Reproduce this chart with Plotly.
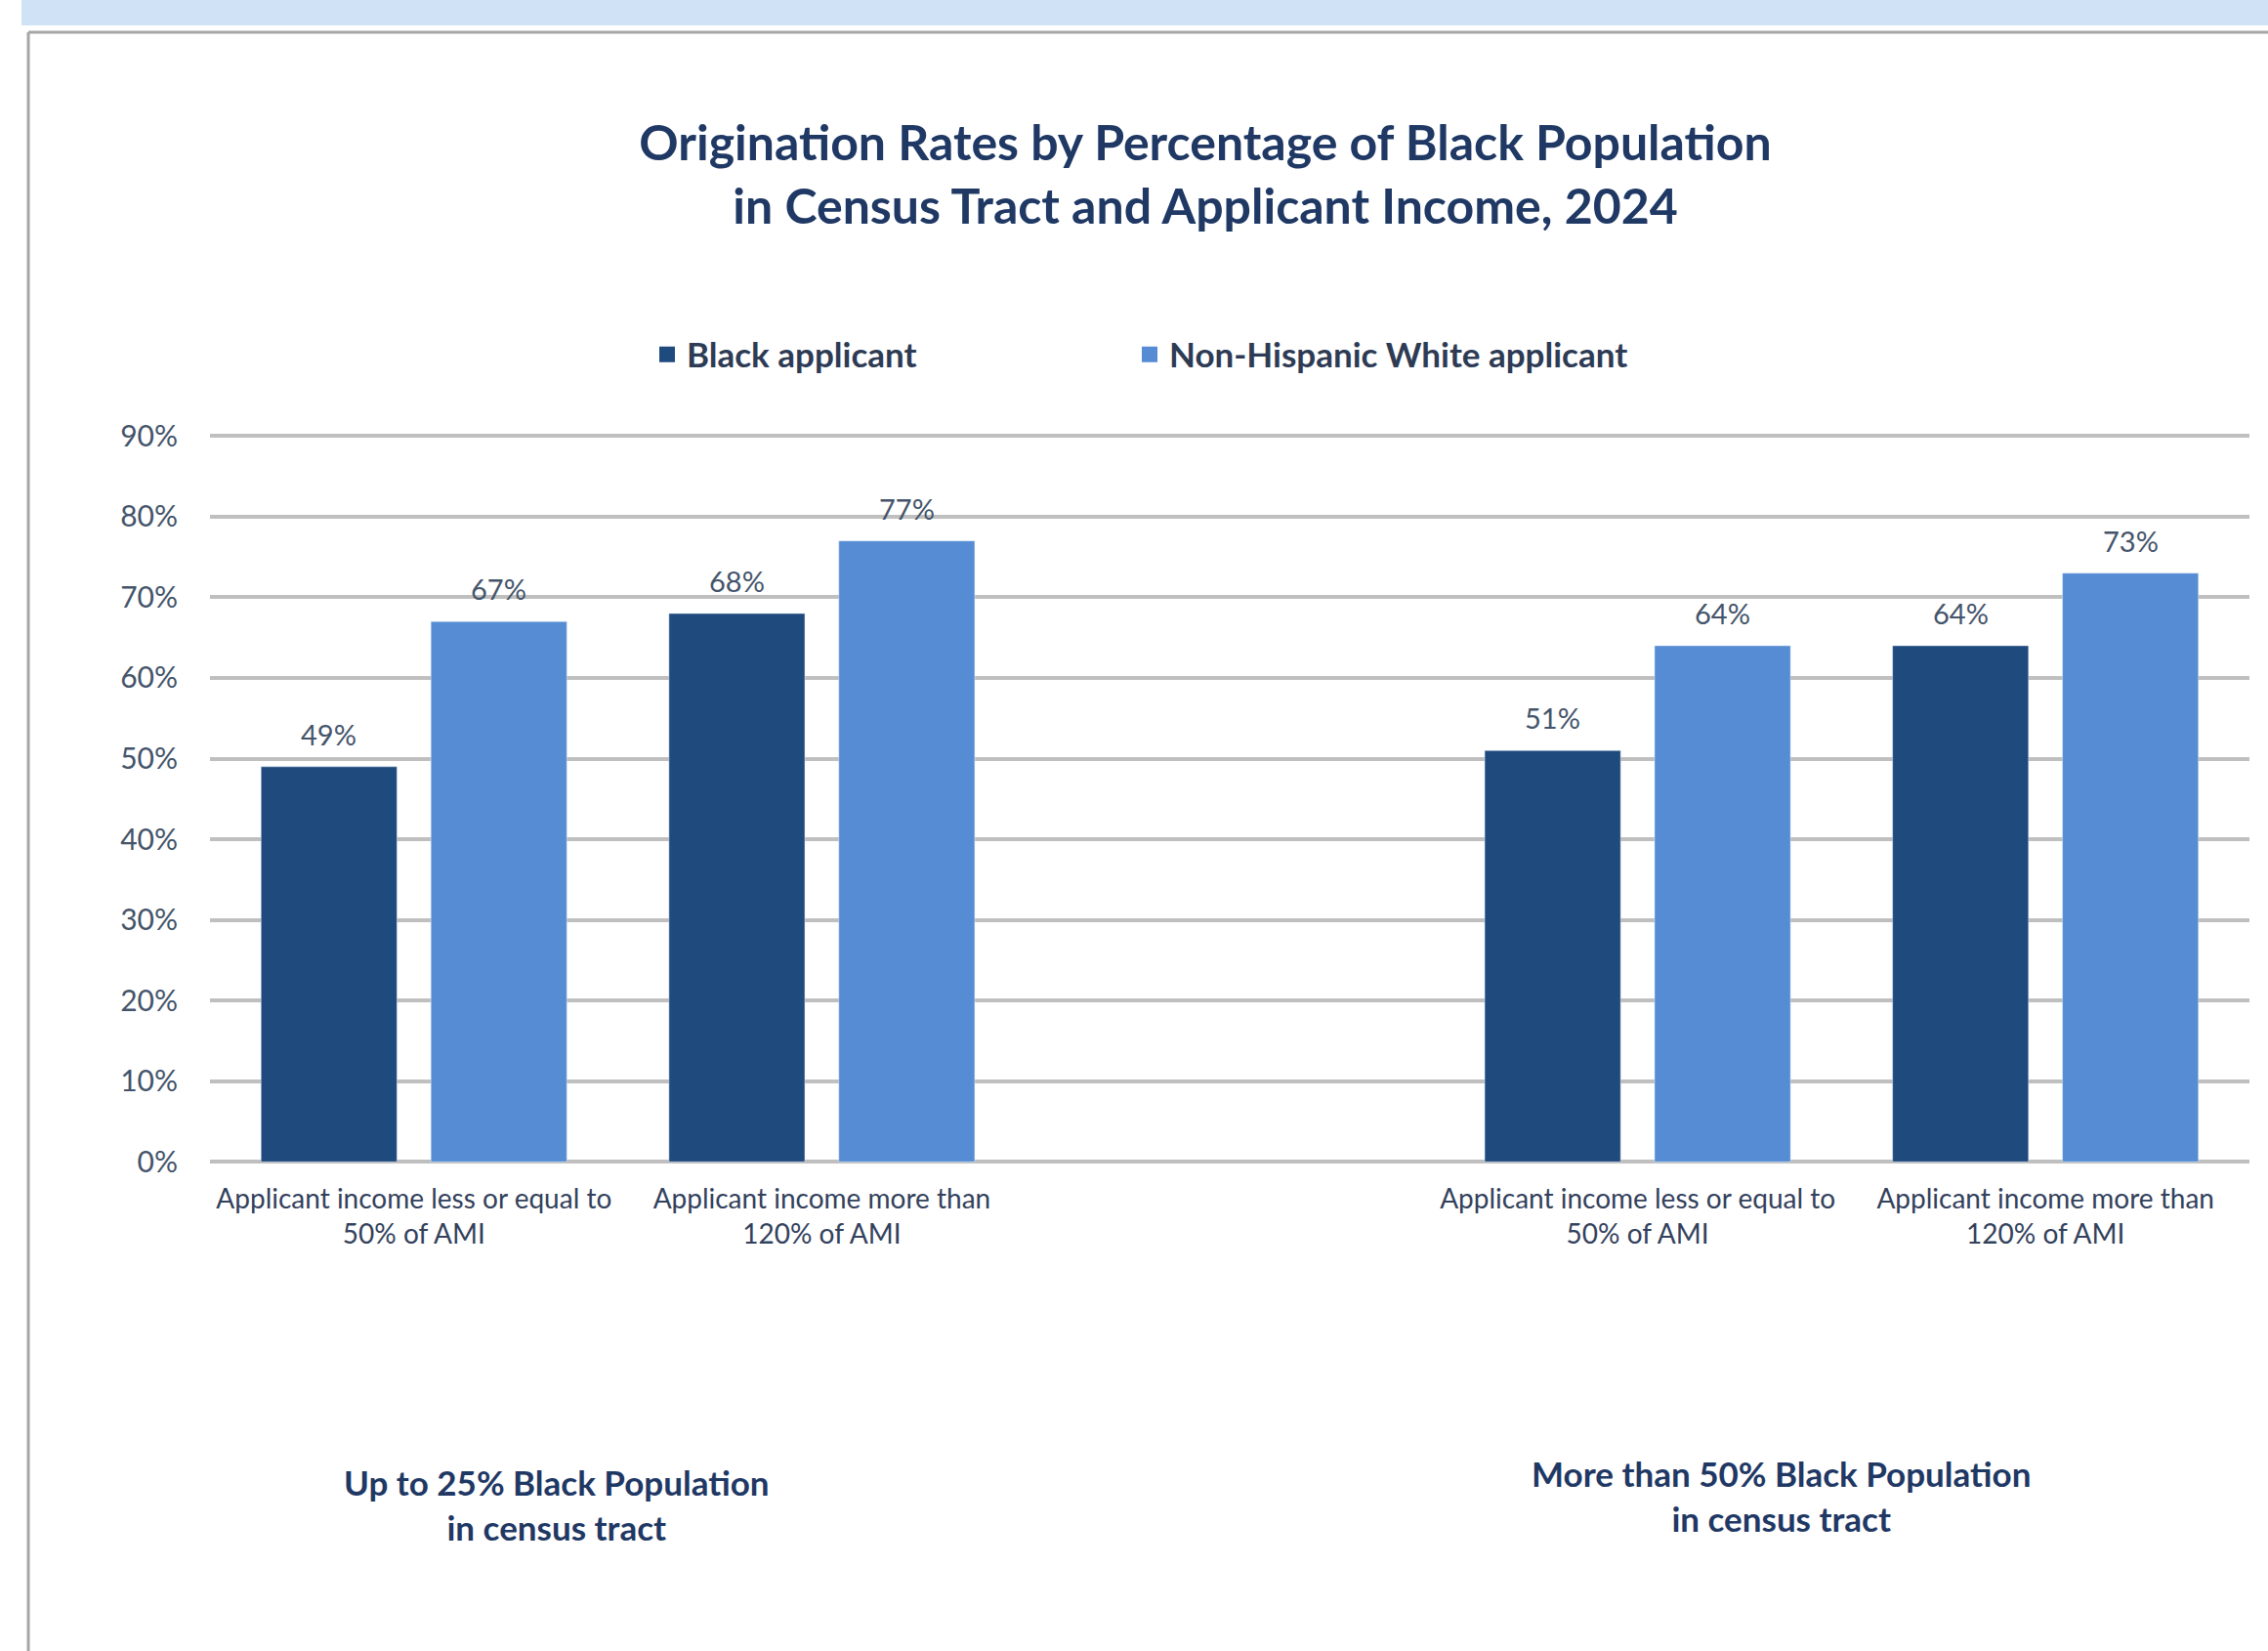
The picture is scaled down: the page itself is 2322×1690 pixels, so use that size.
import plotly.graph_objects as go

# Chart data
categories = [
    "Applicant income less or equal to<br>50% of AMI",
    "Applicant income more than<br>120% of AMI",
    "",
    "Applicant income less or equal to<br>50% of AMI",
    "Applicant income more than<br>120% of AMI",
]
black_rates = [49, 68, None, 51, 64]
white_rates = [67, 77, None, 64, 73]
series_names = ["Black applicant", "Non-Hispanic White applicant"]
series_colors = ["#1F4A7D", "#558CD4"]
group_labels = [
    "Up to 25% Black Population<br>in census tract",
    "More than 50% Black Population<br>in census tract",
]
y_ticks = [0, 10, 20, 30, 40, 50, 60, 70, 80, 90]
y_tick_text = [f"{v}%" for v in y_ticks]

# Page geometry (pixels)
W, H = 2322, 1690
ML, MR, MT, MB = 215, 19, 443, 499
PW, PH = W - ML - MR, H - MT - MB

FONT = "Lato"
NAVY = "#1F3864"
TEXT = "#2E3B55"
LABEL = "#44546A"
GRID = "#BFBFBF"
BARGAP = 0.167


def px_x(px):
    return (px - ML) / PW


def px_y(py):
    return (H - MB - py) / PH


xpos = list(range(len(categories)))
legend_ids = ["legend", "legend2"]
legend_left_px = [663, 1157]

fig = go.Figure()
for name, vals, color, lg in zip(series_names, [black_rates, white_rates], series_colors, legend_ids):
    fig.add_trace(go.Bar(
        x=xpos, y=vals, name=name, marker=dict(color=color),
        showlegend=False, hoverinfo="x+y",
    ))
    # legend entry with a larger square swatch
    fig.add_trace(go.Scatter(
        x=[None], y=[None], name=name, mode="markers",
        marker=dict(symbol="square", size=17, color=color),
        showlegend=True, legend=lg,
    ))

# Value labels above each bar, positioned from the bar values on the data axes
slot = (1 - BARGAP) / 2
for k, vals in enumerate([black_rates, white_rates]):
    offset = (k - 0.5) * slot
    for xi, v in zip(xpos, vals):
        if v is None:
            continue
        fig.add_annotation(
            x=xi + offset, y=v, xref="x", yref="y", text=f"{v:.0f}%",
            showarrow=False, xanchor="center", yanchor="bottom", yshift=14,
            font=dict(family=FONT, size=29, color=LABEL),
        )

legend_style = dict(
    orientation="h", xanchor="left", y=px_y(363), yanchor="middle",
    font=dict(family=FONT, size=35, color=TEXT, weight="bold"),
    bgcolor="rgba(0,0,0,0)",
)

fig.update_layout(
    width=W, height=H,
    margin=dict(l=ML, r=MR, t=MT, b=MB, pad=0),
    paper_bgcolor="white", plot_bgcolor="white",
    barmode="group", bargap=BARGAP, bargroupgap=0.2,
    font=dict(family=FONT, color=TEXT),
    title=dict(
        text="Origination Rates by Percentage of Black Population<br>in Census Tract and Applicant Income, 2024",
        x=1234 / W, xanchor="center", xref="container",
        y=(H - 164) / H, yanchor="middle", yref="container",
        font=dict(family=FONT, size=50, color=NAVY, weight="bold"),
    ),
    legend=dict(x=px_x(legend_left_px[0]), **legend_style),
    legend2=dict(x=px_x(legend_left_px[1]), **legend_style),
    showlegend=True,
)

fig.update_xaxes(
    range=[-0.5, 4.5], tickmode="array", tickvals=[0, 1, 3, 4],
    ticktext=[categories[i] for i in [0, 1, 3, 4]],
    showgrid=False, zeroline=False, showline=False, ticks="",
    tickfont=dict(family=FONT, size=28, color="#33415C"),
    ticklabelstandoff=17,
)
fig.update_yaxes(
    range=[-0.2, 90.4], tickmode="array", tickvals=y_ticks, ticktext=y_tick_text,
    showgrid=True, gridcolor=GRID, gridwidth=4, zeroline=False, showline=False,
    ticks="", tickfont=dict(family=FONT, size=30, color=LABEL),
    ticklabelstandoff=32,
)

# Group captions under each pair of categories
fig.add_annotation(text=group_labels[0], x=px_x(570), y=px_y(1540), xref="paper", yref="paper",
                   showarrow=False, xanchor="center", yanchor="middle",
                   font=dict(family=FONT, size=35, color=NAVY, weight="bold"))
fig.add_annotation(text=group_labels[1], x=px_x(1823), y=px_y(1531), xref="paper", yref="paper",
                   showarrow=False, xanchor="center", yanchor="middle",
                   font=dict(family=FONT, size=35, color=NAVY, weight="bold"))

# Page decoration: header band and frame lines
fig.add_shape(type="rect", xref="paper", yref="paper",
              x0=px_x(22), x1=px_x(W), y0=px_y(0), y1=px_y(26),
              fillcolor="#CFE2F6", line=dict(width=0), layer="below")
fig.add_shape(type="line", xref="paper", yref="paper",
              x0=px_x(29), x1=px_x(W), y0=px_y(33), y1=px_y(33),
              line=dict(color="#A6A6A6", width=3))
fig.add_shape(type="line", xref="paper", yref="paper",
              x0=px_x(29), x1=px_x(29), y0=px_y(33), y1=px_y(H),
              line=dict(color="#A6A6A6", width=3))

fig.write_html("out.html")
